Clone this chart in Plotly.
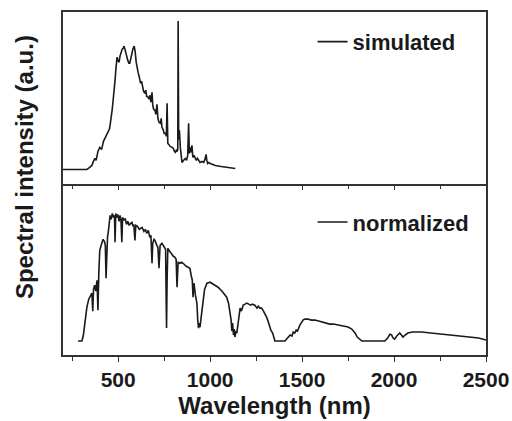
import plotly.graph_objects as go
from plotly.subplots import make_subplots

# Simulated lamp spectrum (wavelength in nm, intensity in a.u.)
sim_wavelength = [200, 330, 345, 357, 365, 374, 380, 390, 400, 410, 420, 428, 436, 445, 452,
                  456, 462, 467, 471, 475, 479, 483, 488, 494, 500, 505, 510, 516, 522, 528,
                  532, 538, 545, 552, 558, 563, 568, 574, 580, 587, 592, 598, 603, 608, 615,
                  622, 627, 633, 638, 645, 650, 655, 663, 668, 673, 678, 684, 688, 693, 700,
                  705, 711, 716, 722, 730, 734, 738, 744, 750, 757, 762, 766, 770, 775, 783,
                  793, 800, 806, 811, 816, 820, 824, 826, 829, 833, 838, 842, 847, 855, 865,
                  872, 878, 883, 887, 892, 897, 901, 906, 912, 919, 925, 931, 937, 945, 955,
                  965, 972, 978, 982, 987, 993, 1000, 1015, 1028, 1060, 1100, 1137]
sim_intensity = [0, 0, 2, 4, 8, 11, 9, 18, 22, 20, 28, 31, 33, 36, 40,
                 44, 50, 59, 66, 72, 78, 89, 101, 112, 108, 107, 113, 117, 120, 121,
                 123, 119, 113, 109, 106, 106, 110, 116, 120, 123, 118, 107, 101, 97, 92,
                 86, 88, 81, 78, 76, 79, 73, 72, 70, 74, 67, 77, 64, 60, 59,
                 55, 65, 51, 47, 46, 51, 42, 40, 36, 36, 33, 66, 26, 25, 23,
                 22, 21, 18, 17, 19, 18, 20, 148, 30, 39, 22, 12, 7, 9, 11,
                 9, 14, 46, 16, 22, 17, 24, 12, 14, 12, 9, 11, 9, 7, 8,
                 7, 10, 15, 9, 6, 7, 6, 5, 4, 3, 2, 1]

# Normalized reference spectrum (wavelength in nm, intensity in a.u.)
norm_wavelength = [282, 303, 310, 320, 330, 340, 350, 357, 362, 366, 372, 378, 385, 390, 395,
                   400, 406, 412, 418, 425, 430, 434, 438, 442, 448, 456, 462, 468, 475, 480,
                   483, 487, 492, 498, 505, 510, 515, 520, 524, 530, 538, 545, 552, 560, 568,
                   575, 580, 585, 591, 596, 605, 615, 622, 630, 640, 648, 655, 664, 672, 678,
                   684, 688, 695, 700, 710, 716, 722, 728, 738, 745, 752, 758, 761, 763, 766,
                   770, 780, 790, 800, 809, 815, 820, 826, 835, 845, 853, 862, 870, 880, 890,
                   898, 903, 907, 912, 920, 928, 933, 937, 941, 945, 950, 955, 962, 970, 976,
                   983, 1000, 1020, 1043, 1065, 1090, 1100, 1109, 1114, 1118, 1122, 1127, 1131, 1135, 1140,
                   1145, 1149, 1153, 1158, 1163, 1170, 1175, 1180, 1190, 1199, 1210, 1220, 1230, 1243, 1255,
                   1262, 1270, 1280, 1290, 1300, 1307, 1315, 1323, 1330, 1340, 1347, 1352, 1407, 1423, 1435,
                   1445, 1452, 1460, 1468, 1475, 1482, 1488, 1495, 1505, 1515, 1532, 1550, 1570, 1590, 1607,
                   1630, 1650, 1670, 1695, 1720, 1750, 1770, 1788, 1800, 1810, 1825, 1950, 1965, 1978, 1987,
                   1995, 2003, 2015, 2031, 2040, 2048, 2060, 2075, 2100, 2150, 2200, 2250, 2300, 2330, 2370,
                   2420, 2460, 2500]
norm_intensity = [0, 0, 5, 21, 34, 42, 46, 48, 30, 52, 56, 50, 61, 31, 70,
                  91, 95, 98, 102, 100, 96, 63, 100, 104, 112, 126, 122, 128, 124, 126,
                  99, 128, 124, 127, 120, 126, 122, 99, 124, 121, 123, 117, 120, 116, 118,
                  119, 115, 117, 101, 116, 115, 112, 113, 114, 110, 112, 108, 111, 104, 106,
                  78, 98, 102, 101, 96, 94, 73, 96, 98, 96, 94, 92, 40, 13, 60,
                  93, 90, 87, 85, 84, 82, 54, 79, 78, 79, 78, 76, 75, 74, 73,
                  65, 61, 44, 58, 46, 38, 20, 13, 18, 14, 22, 28, 40, 52, 56,
                  58, 59, 57, 54, 50, 44, 38, 28, 21, 10, 18, 6, 12, 4, 10,
                  8, 14, 22, 28, 33, 30, 34, 36, 37, 38, 37, 36, 37, 36, 33,
                  35, 33, 33, 30, 27, 24, 20, 14, 11, 8, 3, 0, 0, 4, 6,
                  5, 9, 8, 11, 10, 14, 16, 18, 21, 22, 22, 21, 21, 20, 19,
                  18, 17, 17, 16, 15, 14, 12, 8, 4, 2, 0, 0, 3, 7, 6,
                  3, 2, 5, 8, 6, 4, 6, 8, 9, 9, 8, 7, 6, 6, 5,
                  4, 3, 1]

x_ticks = [500, 1000, 1500, 2000, 2500]
x_range = [200, 2500]

FONT = "Liberation Sans, Arial, sans-serif"
INK = "#1a1a1a"
FRAME = "#333333"

fig = make_subplots(rows=2, cols=1, shared_xaxes=True, vertical_spacing=0)

fig.add_trace(go.Scatter(x=sim_wavelength, y=sim_intensity, mode="lines", name="simulated",
                         line=dict(color=INK, width=1.6), legend="legend"), row=1, col=1)
fig.add_trace(go.Scatter(x=norm_wavelength, y=norm_intensity, mode="lines", name="normalized",
                         line=dict(color=INK, width=1.6), legend="legend2"), row=2, col=1)

line_style = dict(showline=True, linecolor=FRAME, linewidth=1.6, showgrid=False,
                  zeroline=False, automargin=False)

fig.update_xaxes(range=x_range, tickvals=x_ticks, ticks="outside", ticklen=5, tickwidth=1.3,
                 tickcolor=FRAME,
                 minor=dict(ticks="outside", dtick=250, tick0=0, ticklen=4, tickwidth=1.2,
                            tickcolor=FRAME),
                 **line_style)
# upper panel: frame on top and on the shared divider, ticks hang into the lower panel
fig.update_xaxes(showticklabels=False, mirror=True, row=1, col=1)
# lower panel: bottom axis only (the divider line comes from the upper panel)
fig.update_xaxes(showticklabels=True, mirror=False,
                 tickfont=dict(family=FONT, size=21, color=INK, weight="bold"),
                 title=dict(text="Wavelength (nm)", standoff=7,
                            font=dict(family=FONT, size=24, color=INK, weight="bold")),
                 row=2, col=1)

fig.update_yaxes(showticklabels=False, ticks="", mirror=True, **line_style)
fig.update_yaxes(range=[-14, 157], row=1, col=1)
fig.update_yaxes(range=[-14, 158], row=2, col=1)

legend_style = dict(font=dict(family=FONT, size=22, color=INK, weight="bold"),
                    bgcolor="rgba(0,0,0,0)", xanchor="left", yanchor="middle",
                    itemwidth=30, tracegroupgap=0)
fig.update_layout(
    legend=dict(x=0.59, y=0.913, **legend_style),
    legend2=dict(x=0.59, y=0.387, **legend_style),
)

fig.add_annotation(text="Spectral intensity (a.u.)", xref="paper", yref="paper",
                   x=-0.092, y=0.548, xanchor="center", yanchor="middle",
                   textangle=-90, showarrow=False,
                   font=dict(family=FONT, size=24, color=INK, weight="bold"))

fig.update_layout(width=512, height=421, margin=dict(l=63, r=26, t=12, b=66),
                  plot_bgcolor="white", paper_bgcolor="white", showlegend=True)

fig.write_html("out.html")
